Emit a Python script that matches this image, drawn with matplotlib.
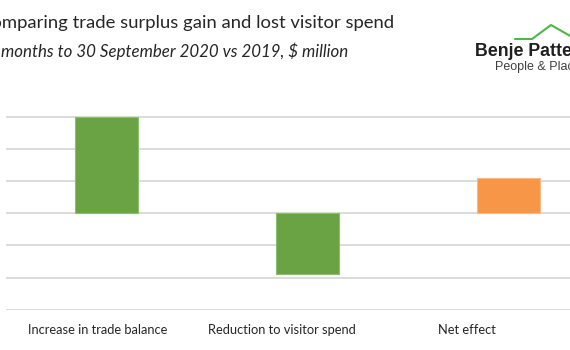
import matplotlib
matplotlib.use("Agg")
import matplotlib.pyplot as plt
import numpy as np
from matplotlib.lines import Line2D

# Nine months to 30 September 2020 vs 2019, $ million
categories = ["Increase in trade balance", "Reduction to visitor spend", "Net effect"]
values = [1500, -950, 550]
bar_colors = ["#6AA343", "#6AA343", "#F79646"]
edge_colors = ["#8CBF6B", "#8CBF6B", "#FAB98A"]

title = "Comparing trade surplus gain and lost visitor spend"
subtitle = "Nine months to 30 September 2020 vs 2019, $ million"

W, H = 570, 350
fig = plt.figure(figsize=(W / 100, H / 100), dpi=100)
fig.patch.set_facecolor("white")


def fx(px):
    return px / W


def fy(py):
    return 1 - py / H


# plot area runs off the right edge of the canvas
ax = fig.add_axes([fx(6), fy(309.5), fx(603), 224 / H])
x = np.arange(len(categories))
ax.bar(x, values, width=0.31, color=bar_colors, edgecolor=edge_colors,
       linewidth=0.8, zorder=3)
ax.set_xlim(-0.5, 2.5)
ax.set_ylim(-1500, 2000)
ax.set_yticks(np.arange(-1500, 2001, 500))
ax.set_yticklabels([])
ax.grid(axis="y", color="#D9D9D9", linewidth=1.3, zorder=0)
ax.tick_params(length=0)
for side in ax.spines.values():
    side.set_visible(False)

label_x = x * 0.92 - 0.045
ax.set_xticks(label_x)
ax.set_xticklabels(categories, fontsize=9.3, color="#262626", family="Lato")
ax.tick_params(axis="x", pad=10.5)

fig.text(fx(-21), fy(23), title, fontsize=13.3, color="#262626",
         family="Lato", va="center", ha="left")
fig.text(fx(-36), fy(51), subtitle, fontsize=12.2, color="#262626",
         family="Lato", style="italic", va="center", ha="left")

# logo
fig.text(fx(475), fy(52), "Benje Patterson", fontsize=12.8, fontweight="bold",
         color="#1F1F1F", family="Liberation Sans", va="center", ha="left")
fig.text(fx(495), fy(67), "People & Places", fontsize=9.0, color="#404040",
         family="Liberation Sans", va="center", ha="left")
roof_x = [515, 532, 551, 572]
roof_y = [39, 39, 25, 37]
fig.add_artist(Line2D([fx(v) for v in roof_x], [fy(v) for v in roof_y],
                      color="#4DB848", linewidth=1.5, solid_capstyle="round"))

fig.savefig("out.png", dpi=100)
